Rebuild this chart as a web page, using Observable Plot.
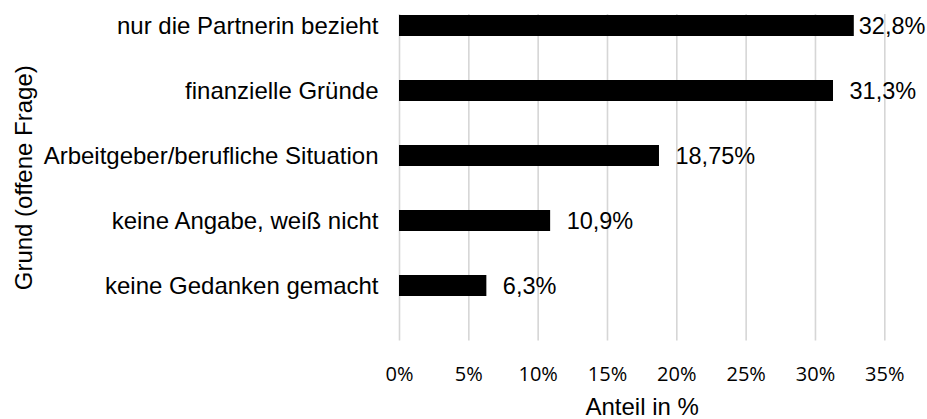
<!DOCTYPE html>
<html>
<head>
<meta charset="utf-8">
<script src="https://cdn.jsdelivr.net/npm/d3@7"></script>
<script src="https://cdn.jsdelivr.net/npm/@observablehq/plot@0.6"></script>
<style>
  html, body { margin: 0; padding: 0; background: #ffffff; }
  #chart { width: 927px; height: 419px; }
</style>
</head>
<body>
<div id="chart"></div>
<script>
const categories = [
  "nur die Partnerin bezieht",
  "finanzielle Gründe",
  "Arbeitgeber/berufliche Situation",
  "keine Angabe, weiß nicht",
  "keine Gedanken gemacht"
];
const values = [32.8, 31.3, 18.75, 10.9, 6.3];
const valueLabels = ["32,8%", "31,3%", "18,75%", "10,9%", "6,3%"];
const xTicks = [0, 5, 10, 15, 20, 25, 30, 35];
const xTitle = "Anteil in %";
const yTitle = "Grund (offene Frage)";

const data = categories.map((c, i) => ({cat: c, value: values[i], label: valueLabels[i], i}));

const arial = "'Liberation Sans', Arial, sans-serif";

const chart = Plot.plot({
  width: 927,
  height: 419,
  marginLeft: 399,
  marginRight: 42.7,
  marginTop: 14,
  marginBottom: 78.5,
  style: {background: "#ffffff", fontFamily: arial, color: "#000"},
  x: {domain: [0, 35]},
  y: {domain: categories, range: [13.75, 297.4], paddingInner: 0.67, paddingOuter: 0},
  marks: [
    Plot.gridX(xTicks, {stroke: "#d6d6d6", strokeOpacity: 1, strokeWidth: 1.6}),
    Plot.barX(data, {x: "value", y: "cat", fill: "#000000"}),
    Plot.text(data.filter(d => d.i === 0), {x: "value", y: "cat", text: "label", dx: 4.5, textAnchor: "start", fontSize: 23.5, fontFamily: arial, fill: "#000"}),
    Plot.text(data.filter(d => d.i !== 0), {x: "value", y: "cat", text: "label", dx: 16, textAnchor: "start", fontSize: 23.5, fontFamily: arial, fill: "#000"}),
    Plot.axisY({tickSize: 0, tickPadding: 21, fontSize: 24, fontFamily: arial, fill: "#000", label: null}),
    Plot.axisX({ticks: xTicks, tickFormat: d => d + "%", tickSize: 0, tickPadding: 25.5, fontSize: 20, fontFamily: "'Open Sans', sans-serif", fill: "#000", label: null}),
    Plot.text([xTitle], {frameAnchor: "bottom", dy: 66.5, lineAnchor: "middle", textAnchor: "middle", fontSize: 24, fontFamily: arial, fill: "#000"}),
    Plot.text([yTitle], {frameAnchor: "left", dx: -375.5, rotate: -90, textAnchor: "middle", lineAnchor: "middle", fontSize: 24, fontFamily: arial, fill: "#000"})
  ]
});
document.getElementById("chart").appendChild(chart);
</script>
</body>
</html>
